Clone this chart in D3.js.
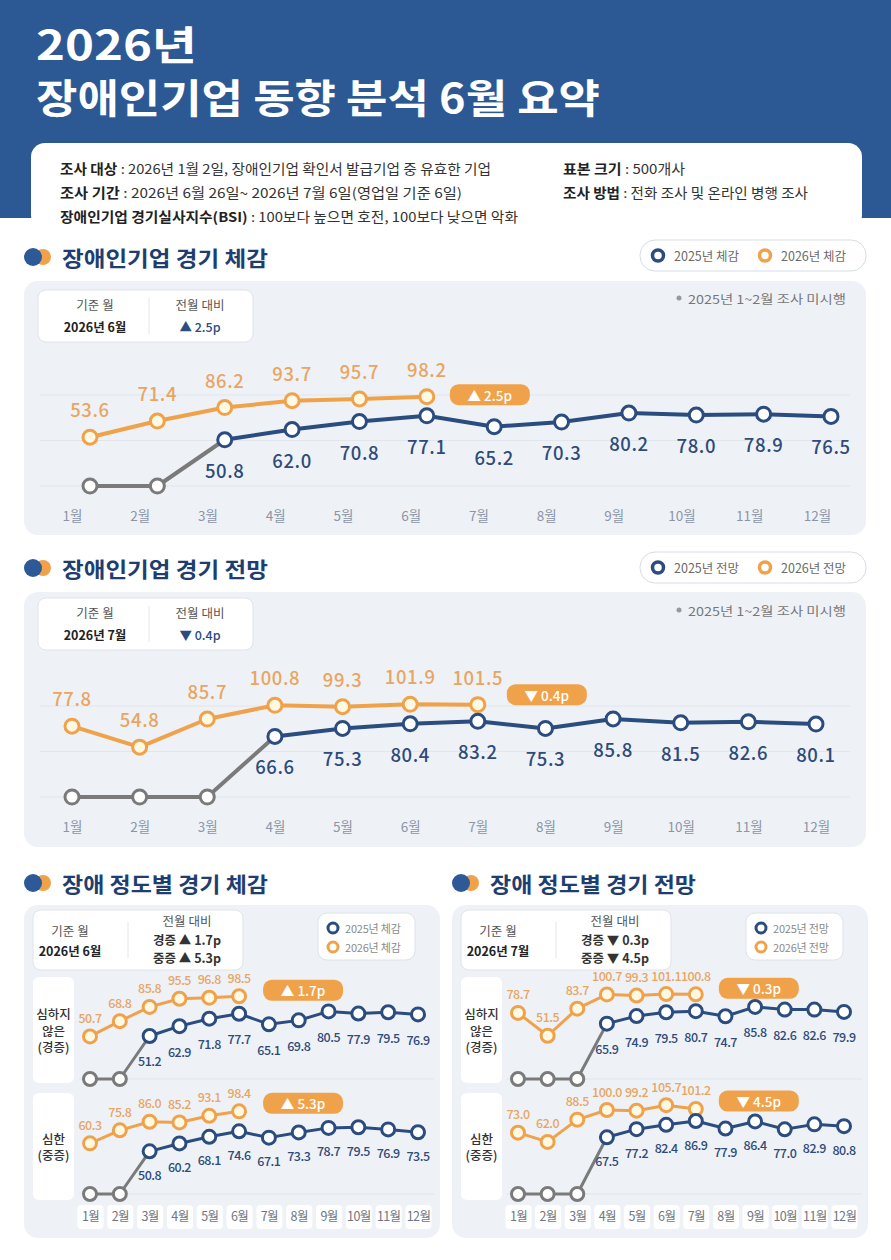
<!DOCTYPE html>
<html><head><meta charset="utf-8">
<script src="https://cdn.jsdelivr.net/npm/d3@7"></script>
<style>
html,body{margin:0;padding:0;background:#fff;}
svg{display:block;font-family:"Noto Sans CJK KR","Noto Sans",sans-serif;}
</style></head><body>
<svg id="c" width="891" height="1260"></svg>
<script>
// ---------- DATA ----------
const titleLines = ["2026년", "장애인기업 동향 분석 6월 요약"];
const infoLeft = [["조사 대상", "2026년 1월 2일, 장애인기업 확인서 발급기업 중 유효한 기업"],
                  ["조사 기간", "2026년 6월 26일~ 2026년 7월 6일(영업일 기준 6일)"],
                  ["장애인기업 경기실사지수(BSI)", "100보다 높으면 호전, 100보다 낮으면 악화"]];
const infoRight = [["표본 크기", "500개사"], ["조사 방법", "전화 조사 및 온라인 병행 조사"]];
const months = ["1월","2월","3월","4월","5월","6월","7월","8월","9월","10월","11월","12월"];
const sectionTitles = ["장애인기업 경기 체감", "장애인기업 경기 전망", "장애 정도별 경기 체감", "장애 정도별 경기 전망"];
const legendCurrent = ["2025년 체감", "2026년 체감"];
const legendOutlook = ["2025년 전망", "2026년 전망"];
const noteText = "2025년 1~2월 조사 미시행";
const rowLabels = [["심하지", "않은", "(경증)"], ["심한", "(중증)"]];

const currentBsi2025 = [null, null, 50.8, 62.0, 70.8, 77.1, 65.2, 70.3, 80.2, 78.0, 78.9, 76.5];
const currentBsi2026 = [53.6, 71.4, 86.2, 93.7, 95.7, 98.2];
const outlookBsi2025 = [null, null, null, 66.6, 75.3, 80.4, 83.2, 75.3, 85.8, 81.5, 82.6, 80.1];
const outlookBsi2026 = [77.8, 54.8, 85.7, 100.8, 99.3, 101.9, 101.5];

const mildCurrent2025 = [null, null, 51.2, 62.9, 71.8, 77.7, 65.1, 69.8, 80.5, 77.9, 79.5, 76.9];
const mildCurrent2026 = [50.7, 68.8, 85.8, 95.5, 96.8, 98.5];
const severeCurrent2025 = [null, null, 50.8, 60.2, 68.1, 74.6, 67.1, 73.3, 78.7, 79.5, 76.9, 73.5];
const severeCurrent2026 = [60.3, 75.8, 86.0, 85.2, 93.1, 98.4];

const mildOutlook2025 = [null, null, null, 65.9, 74.9, 79.5, 80.7, 74.7, 85.8, 82.6, 82.6, 79.9];
const mildOutlook2026 = [78.7, 51.5, 83.7, 100.7, 99.3, 101.1, 100.8];
const severeOutlook2025 = [null, null, null, 67.5, 77.2, 82.4, 86.9, 77.9, 86.4, 77.0, 82.9, 80.8];
const severeOutlook2026 = [73.0, 62.0, 88.5, 100.0, 99.2, 105.7, 101.2];

const changeCurrent = {ref: "2026년 6월", total: "▲ 2.5p", mild: "▲ 1.7p", severe: "▲ 5.3p"};
const changeOutlook = {ref: "2026년 7월", total: "▼ 0.4p", mild: "▼ 0.3p", severe: "▼ 4.5p"};

// ---------- STYLE / LAYOUT ----------
const NAVY = "#2b4c7e", ORANGE = "#f0a24b", ORANGE_T = "#e9a562", GRAY = "#7a7a7a",
      PANEL = "#eef2f7", TITLE = "#1f3e70", HEADER = "#2c5993", GRID = "#e1e6ed";
const FONT = '"Noto Sans CJK KR","Noto Sans",sans-serif';
const titleWidths = [161, 564];
const infoLeftWidths = [431, 402, 458];
const infoRightWidths = [122, 245];
const sectionTitleWidth = 206;

const svg = d3.select("#c");
const fit = (sel, w) => sel.attr("textLength", w).attr("lengthAdjust", "spacingAndGlyphs");

// ---------- HEADER ----------
svg.append("rect").attr("x", 0).attr("y", 0).attr("width", 891).attr("height", 218).attr("fill", HEADER);
titleLines.forEach((s, i) => {
  fit(svg.append("text").attr("x", 36).attr("y", 60 + i * 53).attr("fill", "#fff").attr("font-size", 40)
    .attr("font-weight", 700).text(s), titleWidths[i]);
});

svg.append("rect").attr("x", 31).attr("y", 143).attr("width", 831).attr("height", 86).attr("rx", 14).attr("fill", "#fff");
function infoLine(x, y, pair, w) {
  const t = svg.append("text").attr("x", x).attr("y", y).attr("font-size", 13.5).attr("fill", "#333")
    .attr("dominant-baseline", "central");
  t.append("tspan").attr("font-weight", 700).attr("fill", "#222").text(pair[0]);
  t.append("tspan").text(" : " + pair[1]);
  fit(t, w);
}
infoLeft.forEach((p, i) => infoLine(60, 168 + i * 24, p, infoLeftWidths[i]));
infoRight.forEach((p, i) => infoLine(563, 168 + i * 24, p, infoRightWidths[i]));

// ---------- HELPERS ----------
function sectionHeader(x, y, text) {
  svg.append("circle").attr("cx", x + 10).attr("cy", y).attr("r", 8).attr("fill", ORANGE);
  svg.append("circle").attr("cx", x).attr("cy", y).attr("r", 9).attr("fill", "#2d5a96");
  fit(svg.append("text").attr("x", x + 29).attr("y", y).attr("dominant-baseline", "central")
    .attr("font-size", 21).attr("font-weight", 700).attr("fill", TITLE).text(text), sectionTitleWidth);
}
function legendPill(x, y, labels) {
  svg.append("rect").attr("x", x).attr("y", y).attr("width", 226).attr("height", 31).attr("rx", 15)
    .attr("fill", "#fff").attr("stroke", "#d7dde5");
  const cy = y + 15.5;
  [[NAVY, 18], [ORANGE, 125]].forEach((c, i) => {
    svg.append("circle").attr("cx", x + c[1]).attr("cy", cy).attr("r", 5.5).attr("fill", "#fff")
      .attr("stroke", c[0]).attr("stroke-width", 3.5);
    svg.append("text").attr("x", x + c[1] + 16).attr("y", cy).attr("dominant-baseline", "central")
      .attr("font-size", 12.5).attr("fill", "#6a6a6a").text(labels[i]);
  });
}
function legendBox(x, y, labels) {
  svg.append("rect").attr("x", x).attr("y", y).attr("width", 97).attr("height", 47).attr("rx", 9)
    .attr("fill", "#fff").attr("stroke", "#dde2ea");
  [[NAVY, 15], [ORANGE, 34]].forEach((c, i) => {
    svg.append("circle").attr("cx", x + 15).attr("cy", y + c[1]).attr("r", 5).attr("fill", "#fff")
      .attr("stroke", c[0]).attr("stroke-width", 3);
    svg.append("text").attr("x", x + 27).attr("y", y + c[1]).attr("dominant-baseline", "central")
      .attr("font-size", 11).attr("fill", "#8a8a8a").attr("letter-spacing", -0.2).text(labels[i]);
  });
}
function badge(cx, cy, w, h, fs, text) {
  svg.append("rect").attr("x", cx - w / 2).attr("y", cy - h / 2).attr("width", w).attr("height", h)
    .attr("rx", h / 2.4).attr("fill", ORANGE);
  svg.append("text").attr("x", cx).attr("y", cy).attr("text-anchor", "middle").attr("dominant-baseline", "central")
    .attr("font-size", fs).attr("font-weight", 500).attr("fill", "#fff").text(text);
}
function drawSeries(x, y, v25, v26, st) {
  const g = svg.append("g");
  const line = d3.line();
  const first = v25.findIndex(v => v != null);
  const grayPts = d3.range(first).map(i => [x(months[i]), y(0)]);
  const navy = v25.map((v, i) => ({i, v})).filter(d => d.v != null);
  const orange = v26.map((v, i) => ({i, v}));
  g.append("path").attr("d", line(orange.map(d => [x(months[d.i]), y(d.v)])))
    .attr("fill", "none").attr("stroke", ORANGE).attr("stroke-width", st.lw).attr("stroke-linejoin", "round");
  g.selectAll(null).data(orange).join("circle").attr("cx", d => x(months[d.i])).attr("cy", d => y(d.v))
    .attr("r", st.r).attr("fill", "#fff8e3").attr("stroke", ORANGE).attr("stroke-width", st.sw);
  g.append("path").attr("d", line([...grayPts, [x(months[first]), y(v25[first])]]))
    .attr("fill", "none").attr("stroke", GRAY).attr("stroke-width", st.lw).attr("stroke-linejoin", "round");
  g.selectAll(null).data(grayPts).join("circle").attr("cx", d => d[0]).attr("cy", d => d[1])
    .attr("r", st.r).attr("fill", "#fff").attr("stroke", GRAY).attr("stroke-width", st.sw);
  g.append("path").attr("d", line(navy.map(d => [x(months[d.i]), y(d.v)])))
    .attr("fill", "none").attr("stroke", NAVY).attr("stroke-width", st.lw).attr("stroke-linejoin", "round");
  g.selectAll(null).data(navy).join("circle").attr("cx", d => x(months[d.i])).attr("cy", d => y(d.v))
    .attr("r", st.r).attr("fill", "#fff").attr("stroke", NAVY).attr("stroke-width", st.sw);
  g.selectAll(null).data(orange).join("text").attr("x", d => x(months[d.i])).attr("y", d => y(d.v) - st.up)
    .attr("text-anchor", "middle").attr("dominant-baseline", "central").attr("font-size", st.fs)
    .attr("font-weight", 500).attr("fill", ORANGE_T).attr("letter-spacing", st.ls).text(d => d.v.toFixed(1));
  g.selectAll(null).data(navy).join("text").attr("x", d => x(months[d.i])).attr("y", d => y(d.v) + st.down)
    .attr("text-anchor", "middle").attr("dominant-baseline", "central").attr("font-size", st.fs)
    .attr("font-weight", 500).attr("fill", "#2e4b7a").attr("letter-spacing", st.ls).text(d => d.v.toFixed(1));
  return orange[orange.length - 1];
}
function monthAxis(scale, y, boxed) {
  const g = svg.append("g").attr("transform", `translate(0,${y})`)
    .call(d3.axisBottom(scale).tickSize(0).tickPadding(0));
  g.select(".domain").remove();
  if (boxed) {
    g.selectAll(".tick").insert("rect", "text").attr("x", -13).attr("y", -12).attr("width", 26).attr("height", 24)
      .attr("rx", 4).attr("fill", "#fff");
  }
  g.selectAll("text").attr("y", 0).attr("dy", "0.35em").attr("font-family", FONT)
    .attr("font-size", boxed ? 12.5 : 13.5).attr("fill", boxed ? "#6f7682" : "#8b95a6").attr("letter-spacing", boxed ? -0.6 : 0);
}
function mainInfoBox(y, ref, change) {
  svg.append("rect").attr("x", 38).attr("y", y).attr("width", 215).attr("height", 52).attr("rx", 8)
    .attr("fill", "#fff").attr("stroke", "#dfe4eb");
  svg.append("line").attr("x1", 149).attr("x2", 149).attr("y1", y + 8).attr("y2", y + 44).attr("stroke", "#e2e6ec");
  const t = (x, yy, s, w, c) => svg.append("text").attr("x", x).attr("y", yy).attr("text-anchor", "middle")
    .attr("dominant-baseline", "central").attr("font-size", 12.5).attr("font-weight", w).attr("fill", c).text(s);
  t(95, y + 14, "기준 월", 400, "#555");
  t(95, y + 36, ref, 700, "#222");
  t(200, y + 14, "전월 대비", 400, "#555");
  t(200, y + 36, change, 500, NAVY);
}
function note(y) {
  svg.append("circle").attr("cx", 679).attr("cy", y).attr("r", 2.5).attr("fill", "#999");
  fit(svg.append("text").attr("x", 688).attr("y", y).attr("dominant-baseline", "central")
    .attr("font-size", 12).attr("fill", "#777").text(noteText), 158);
}
function subInfoBox(x, y, chg) {
  svg.append("rect").attr("x", x).attr("y", y).attr("width", 210).attr("height", 60).attr("rx", 8)
    .attr("fill", "#fff").attr("stroke", "#dfe4eb");
  svg.append("line").attr("x1", x + 95).attr("x2", x + 95).attr("y1", y + 12).attr("y2", y + 48).attr("stroke", "#e2e6ec");
  const t = (xx, yy, s, w, c) => svg.append("text").attr("x", xx).attr("y", yy).attr("text-anchor", "middle")
    .attr("dominant-baseline", "central").attr("font-size", 12.5).attr("font-weight", w).attr("fill", c).text(s);
  t(x + 37, y + 20, "기준 월", 400, "#555");
  t(x + 37, y + 40, chg.ref, 700, "#222");
  t(x + 154, y + 10, "전월 대비", 400, "#555");
  t(x + 154, y + 29, "경증 " + chg.mild, 700, "#333");
  t(x + 154, y + 47, "중증 " + chg.severe, 700, "#333");
}
function rowLabelBox(x, y, h, lines) {
  svg.append("rect").attr("x", x).attr("y", y).attr("width", 41).attr("height", h).attr("rx", 6).attr("fill", "#fff");
  const n = lines.length;
  lines.forEach((s, i) => {
    svg.append("text").attr("x", x + 20.5).attr("y", y + h / 2 + (i - (n - 1) / 2) * 16.5)
      .attr("text-anchor", "middle").attr("dominant-baseline", "central").attr("font-size", 12.5)
      .attr("font-weight", 500).attr("fill", "#333").text(s);
  });
}

const mainStyle = {lw: 4, r: 7, sw: 3, fs: 18.5, up: 28, down: 30, ls: 0.6};

// ---------- CHART 1: 경기 체감 ----------
sectionHeader(33, 257, sectionTitles[0]);
legendPill(640, 240, legendCurrent);
svg.append("rect").attr("x", 24).attr("y", 281).attr("width", 842).attr("height", 254).attr("rx", 14).attr("fill", PANEL);
{
  const x = d3.scalePoint().domain(months).range([90, 831]);
  const xl = d3.scalePoint().domain(months).range([72, 817]);
  const y = d3.scaleLinear().domain([0, 100]).range([486, 395]);
  [0, 50, 100].forEach(v => svg.append("line").attr("x1", 40).attr("x2", 850).attr("y1", y(v)).attr("y2", y(v))
    .attr("stroke", GRID).attr("stroke-width", 1));
  mainInfoBox(290, changeCurrent.ref, changeCurrent.total);
  note(298);
  const last = drawSeries(x, y, currentBsi2025, currentBsi2026, mainStyle);
  badge(x(months[last.i]) + 63, y(last.v) - 2, 80, 21, 13.5, changeCurrent.total);
  monthAxis(xl, 516, false);
}

// ---------- CHART 2: 경기 전망 ----------
sectionHeader(33, 568, sectionTitles[1]);
legendPill(640, 552, legendOutlook);
svg.append("rect").attr("x", 24).attr("y", 592).attr("width", 842).attr("height", 255).attr("rx", 14).attr("fill", PANEL);
{
  const x = d3.scalePoint().domain(months).range([72, 816]);
  const y = d3.scaleLinear().domain([0, 100]).range([797, 706]);
  [0, 50, 100].forEach(v => svg.append("line").attr("x1", 40).attr("x2", 850).attr("y1", y(v)).attr("y2", y(v))
    .attr("stroke", GRID).attr("stroke-width", 1));
  mainInfoBox(598, changeOutlook.ref, changeOutlook.total);
  note(610);
  const last = drawSeries(x, y, outlookBsi2025, outlookBsi2026, mainStyle);
  badge(x(months[last.i]) + 69, y(last.v) - 10, 80, 21, 13.5, changeOutlook.total);
  monthAxis(x, 827, false);
}

// ---------- CHART 3 & 4: 장애 정도별 ----------
function subChart(px, titleX, title, legend, chg, mild25, mild26, sev25, sev26, xr, badgeDx) {
  sectionHeader(titleX, 883, title);
  svg.append("rect").attr("x", px).attr("y", 905).attr("width", 416).attr("height", 333).attr("rx", 14).attr("fill", PANEL);
  subInfoBox(px + 9, 910, chg);
  legendBox(px + 294, 913, legend);
  rowLabelBox(px + 9, 977, 106, rowLabels[0]);
  rowLabelBox(px + 9, 1093, 107, rowLabels[1]);
  const x = d3.scalePoint().domain(months).range(xr);
  const y1 = d3.scaleLinear().domain([0, 100]).range([1079, 995]);
  const y2 = d3.scaleLinear().domain([0, 100]).range([1194, 1110]);
  [y1, y2].forEach(y => svg.append("line").attr("x1", px + 55).attr("x2", px + 410).attr("y1", y(0)).attr("y2", y(0))
    .attr("stroke", GRID).attr("stroke-width", 1));
  const st = {lw: 3, r: 6.5, sw: 3, fs: 12.5, up: 19, down: 25, ls: -0.5};
  const l1 = drawSeries(x, y1, mild25, mild26, st);
  badge(x(months[l1.i]) + badgeDx, y1(l1.v) - 6, 80, 21, 13.5, chg.mild);
  const l2 = drawSeries(x, y2, sev25, sev26, Object.assign({}, st, {down: 23}));
  badge(x(months[l2.i]) + badgeDx, y2(l2.v) - 8, 80, 21, 13.5, chg.severe);
  monthAxis(x, 1217, true);
}
subChart(24, 33, sectionTitles[2], legendCurrent, changeCurrent,
  mildCurrent2025, mildCurrent2026, severeCurrent2025, severeCurrent2026, [90, 418], 64);
subChart(452, 461, sectionTitles[3], legendOutlook, changeOutlook,
  mildOutlook2025, mildOutlook2026, severeOutlook2025, severeOutlook2026, [518, 844], 63);
</script>
</body></html>
